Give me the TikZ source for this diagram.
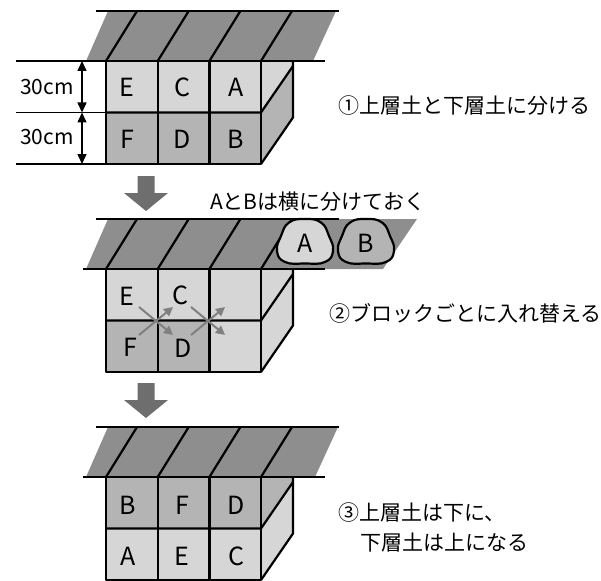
\documentclass[tikz,border=0pt]{standalone}
\usepackage{fontspec}
\setmainfont{Noto Sans CJK JP}
\usetikzlibrary{arrows.meta, positioning}

\definecolor{soilhi}{HTML}{D6D6D6}
\definecolor{soillo}{HTML}{B4B4B4}
\definecolor{planegray}{HTML}{8E8E8E}
\definecolor{arrowgray}{HTML}{6E6E6E}
\definecolor{swapgray}{HTML}{808080}

\tikzset{
  edge/.style={line width=2.2pt, line join=round},
  dim/.style={line width=1.5pt, {Triangle[width=9pt,length=10pt]}-{Triangle[width=9pt,length=10pt]}},
  swap/.style={draw=swapgray, line width=2pt, -{Triangle[width=9pt,length=9pt]}},
  cell/.style={font=\fontsize{25}{25}\selectfont, inner sep=0pt},
  note/.style={font=\fontsize{21}{30}\selectfont, anchor=west, inner sep=0pt, align=left}
}

\begin{document}
\begin{tikzpicture}[x=1pt, y=-1pt]
\useasboundingbox (0,0) rectangle (601,580);

% three soil blocks
\foreach \dy/\pt/\pb/\bl/\ta/\tb/\tc/\ba/\bb/\bc/\sa/\sb in
  {0/336/313/16/soilhi/soilhi/soilhi/soillo/soillo/soillo/soilhi/soillo,
   208/417/383/83/soilhi/soilhi/soilhi/soillo/soillo/soilhi/soilhi/soilhi,
   416/338/315/83/soillo/soillo/soillo/soilhi/soilhi/soilhi/soillo/soilhi}
{
\begin{scope}[shift={(0,\dy)}]
  \fill[planegray] (86,61) -- (108,11) -- (\pt,11) -- (\pb,61) -- cycle;
  \foreach \x in {106,157.7,209.4,261}
    \draw[edge] (\x,61) -- ++(31,-50);
  \fill[\ta] (106,61) rectangle (157.7,112.5);
  \fill[\tb] (157.7,61) rectangle (209.4,112.5);
  \fill[\tc] (209.4,61) rectangle (261,112.5);
  \fill[\ba] (106,112.5) rectangle (157.7,164);
  \fill[\bb] (157.7,112.5) rectangle (209.4,164);
  \fill[\bc] (209.4,112.5) rectangle (261,164);
  \fill[\sa] (261,61) -- (293,61) -- (293,66) -- (261,112.5) -- cycle;
  \fill[\sb] (261,112.5) -- (293,66) -- (293,117.5) -- (261,164) -- cycle;
  \draw[edge] (106,61) rectangle (261,164);
  \draw[edge] (106,112.5) -- (261,112.5) -- (293,66);
  \draw[edge] (157.7,61) -- (157.7,164) (209.4,61) -- (209.4,164);
  \draw[edge] (261,164) -- (293,117.5) -- (293,61);
  \draw[edge] (96,11) -- (339,11);
  \draw[edge] (\bl,61) -- (325,61);
\end{scope}
}

% depth marks
\draw[line width=1.6pt] (16,112.5) -- (106,112.5) (16,164) -- (106,164);
\coordinate (d0) at (82,61);
\coordinate (d1) at (82,112.5);
\coordinate (d2) at (82,164);
\draw[dim] (d0) -- (d1);
\draw[dim] (d1) -- (d2);
\node[font=\fontsize{21}{21}\selectfont, anchor=east, inner sep=0pt] (top30) at (74,87) {30cm};
\node[font=\fontsize{21}{21}\selectfont, anchor=east, inner sep=0pt] (low30) at (74,137) {30cm};

% labels
\node[cell] (E1) at (127,87) {E};
\node[cell] (C1) at (182,87) {C};
\node[cell] (A1) at (236,87) {A};
\node[cell] (F1) at (127,139) {F};
\node[cell] (D1) at (182,139) {D};
\node[cell] (B1) at (236,139) {B};

\node[cell] (E2) at (127,296) {E};
\node[cell] (C2) at (180,295) {C};
\node[cell] (F2) at (130,347) {F};
\node[cell] (D2) at (183,348) {D};

\node[cell] (B3) at (128,505) {B};
\node[cell] (F3) at (182,505) {F};
\node[cell] (D3) at (236,505) {D};
\node[cell] (A3) at (128,556) {A};
\node[cell] (E3) at (182,556) {E};
\node[cell] (C3) at (236,556) {C};

% stones
\foreach \n/\cx/\col in {A/305/soilhi, B/366/soillo}
{
  \draw[edge, fill=\col] plot[smooth cycle, tension=0.8] coordinates
    {(\cx,219) (\cx+16,222.5) (\cx+24,236) (\cx+28,251) (\cx+20,262) (\cx,263.5)
     (\cx-20,262) (\cx-28,251) (\cx-24,236) (\cx-16,222.5)};
  \node[cell] (stone\n) at (\cx,243) {\n};
}

% swap arrows
\foreach \cx [count=\k] in {156,208}
{
  \coordinate (ul\k) at (\cx-17,307);
  \coordinate (ur\k) at (\cx+17,307);
  \coordinate (ll\k) at (\cx-17,335);
  \coordinate (lr\k) at (\cx+17,335);
  \draw[swap] (ll\k) -- (ur\k);
  \draw[swap] (ul\k) -- (lr\k);
}

% down arrows
\foreach \y in {176,383}
  \fill[arrowgray] (137.5,\y) -- (154.5,\y) -- (154.5,\y+17) -- (168,\y+17)
    -- (146,\y+35) -- (124,\y+17) -- (137.5,\y+17) -- cycle;

% notes
\node[note] (step1) at (338,106) {①上層土と下層土に分ける};
\node[note] (aside) at (210,202) {AとBは横に分けておく};
\node[note] (step2) at (329,313) {②ブロックごとに入れ替える};
\node[note] (step3) at (338,527) {③上層土は下に、\\\hspace{22pt}下層土は上になる};
\end{tikzpicture}
\end{document}
